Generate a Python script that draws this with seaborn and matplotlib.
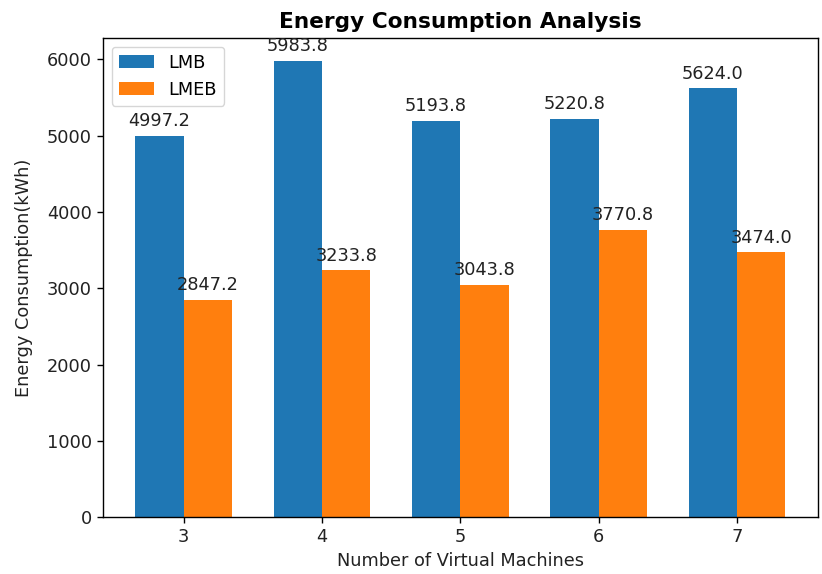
import pandas as pd
import matplotlib
matplotlib.use("Agg")
import matplotlib.pyplot as plt
import seaborn as sns

# values
vms = ["3", "4", "5", "6", "7"]
lmb = [4997.2, 5983.8, 5193.8, 5220.8, 5624.0]
lmeb = [2847.2, 3233.8, 3043.8, 3770.8, 3474.0]

df = pd.DataFrame({
    "VMs": vms * 2,
    "Energy": lmb + lmeb,
    "Method": ["LMB"] * len(vms) + ["LMEB"] * len(vms),
})

plt.rcParams["axes.linewidth"] = 1.0
plt.rcParams["xtick.major.width"] = 1.0
plt.rcParams["ytick.major.width"] = 1.0
plt.rcParams["xtick.major.size"] = 4.5
plt.rcParams["ytick.major.size"] = 4.5

fig, ax = plt.subplots(figsize=(8.22, 5.74), dpi=100)
fig.subplots_adjust(left=0.125, right=0.995, top=0.934, bottom=0.099)

sns.barplot(data=df, x="VMs", y="Energy", hue="Method",
            palette=["#1f77b4", "#ff7f0e"], width=0.7, gap=0,
            saturation=1, ax=ax)

for c in ax.containers:
    ax.bar_label(c, fmt="%.1f", padding=4, fontsize=12.8, color="#222222")

ax.set_xlim(-0.585, 4.585)
ax.set_title("Energy Consumption Analysis", fontsize=15.6, fontweight="bold", pad=7)
ax.set_xlabel("Number of Virtual Machines", fontsize=12.8, color="#222222")
ax.set_ylabel("Energy Consumption(kWh)", fontsize=12.8, color="#222222", labelpad=10)
ax.tick_params(labelsize=12.8, labelcolor="#222222")
ax.legend(loc="upper left", fontsize=12.8)

fig.savefig("out.png", dpi=100)
